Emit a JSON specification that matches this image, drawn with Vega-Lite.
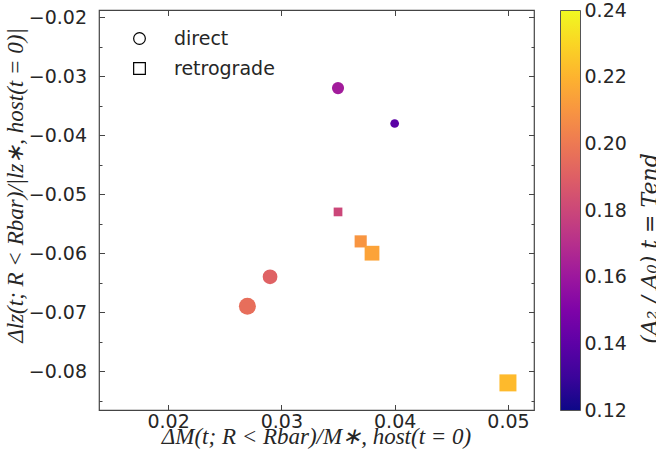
{
  "$schema": "https://vega.github.io/schema/vega-lite/v6.json",
  "width": 435,
  "height": 400,
  "autosize": {"type": "none"},
  "padding": {"left": 99, "top": 10, "right": 122, "bottom": 54},
  "background": "white",
  "config": {
    "view": {"stroke": "#444444", "strokeWidth": 1.2},
    "axis": {
      "domain": false,
      "grid": false,
      "labelFont": "DejaVu Sans",
      "labelFontSize": 19,
      "labelColor": "#262626",
      "tickColor": "#444444",
      "tickWidth": 1,
      "titleFont": "Liberation Serif",
      "titleFontStyle": "italic",
      "titleFontWeight": "normal",
      "titleFontSize": 23,
      "titleColor": "#262626"
    }
  },
  "data": {
    "values": [
      {"dm": 0.035, "dl": -0.032, "a": 0.162, "orbit": "direct", "weight": 2},
      {"dm": 0.040, "dl": -0.038, "a": 0.139, "orbit": "direct", "weight": 1},
      {"dm": 0.035, "dl": -0.053, "a": 0.180, "orbit": "retrograde", "weight": 1},
      {"dm": 0.037, "dl": -0.058, "a": 0.210, "orbit": "retrograde", "weight": 2},
      {"dm": 0.038, "dl": -0.060, "a": 0.215, "orbit": "retrograde", "weight": 3},
      {"dm": 0.029, "dl": -0.064, "a": 0.191, "orbit": "direct", "weight": 3},
      {"dm": 0.027, "dl": -0.069, "a": 0.196, "orbit": "direct", "weight": 4},
      {"dm": 0.050, "dl": -0.082, "a": 0.222, "orbit": "retrograde", "weight": 4}
    ]
  },
  "layer": [
    {
      "mark": {"type": "point", "filled": true, "opacity": 1, "strokeWidth": 0},
      "encoding": {
        "x": {
          "field": "dm", "type": "quantitative",
          "scale": {"domain": [0.0139, 0.0523], "nice": false, "zero": false},
          "axis": {
            "orient": "bottom",
            "values": [0.02, 0.03, 0.04, 0.05],
            "format": ".2f",
            "tickSize": -5.5,
            "labelPadding": 7.5,
            "title": "ΔM(t; R < Rbar)/M∗, host(t = 0)",
            "titleX": 217,
            "titleY": 26,
            "titleBaseline": "middle"
          }
        },
        "y": {
          "field": "dl", "type": "quantitative",
          "scale": {"domain": [-0.0866, -0.01875], "nice": false, "zero": false},
          "axis": {
            "orient": "left",
            "values": [-0.02, -0.03, -0.04, -0.05, -0.06, -0.07, -0.08],
            "format": ".2f",
            "tickSize": -5.5,
            "labelPadding": 18,
            "title": "Δlz(t; R < Rbar)/|lz∗, host(t = 0)|",
            "titleX": -84,
            "titleY": 175,
            "titleAngle": 270,
            "titleBaseline": "middle"
          }
        },
        "color": {
          "field": "a", "type": "quantitative",
          "scale": {"scheme": "plasma", "domain": [0.12, 0.24]},
          "legend": {
            "orient": "none",
            "legendX": 461.5,
            "legendY": 0.5,
            "direction": "vertical",
            "padding": 0,
            "gradientLength": 400,
            "gradientThickness": 20,
            "gradientStrokeColor": "#555555",
            "gradientStrokeWidth": 1,
            "values": [],
            "title": null
          }
        },
        "shape": {
          "field": "orbit", "type": "nominal",
          "scale": {"domain": ["direct", "retrograde"], "range": ["circle", "square"]},
          "legend": {
            "orient": "none",
            "legendX": 31,
            "legendY": 19,
            "padding": 0,
            "title": null,
            "labelFont": "DejaVu Sans",
            "labelFontSize": 19,
            "labelColor": "#262626",
            "labelOffset": 25,
            "rowPadding": 10,
            "symbolSize": 137,
            "symbolStrokeColor": "black",
            "symbolFillColor": "white",
            "symbolStrokeWidth": 1.2,
            "symbolOpacity": 1
          }
        },
        "size": {
          "field": "weight", "type": "quantitative",
          "scale": {"domain": [1, 4], "range": [76, 289]},
          "legend": null
        }
      }
    },
    {
      "mark": {"type": "point", "opacity": 0},
      "encoding": {
        "x": {
          "field": "dm", "type": "quantitative",
          "axis": {"orient": "top", "values": [0.02, 0.03, 0.04, 0.05], "labels": false, "tickSize": -5.5, "title": null}
        },
        "y": {
          "field": "dl", "type": "quantitative",
          "scale": {"domain": [-0.0866, -0.01875], "nice": false, "zero": false},
          "axis": {
            "orient": "right",
            "values": [-0.02, -0.03, -0.04, -0.05, -0.06, -0.07, -0.08],
            "labels": false,
            "tickSize": -5.5,
            "title": "(A₂ / A₀) t = Tend",
            "titleFont": "DejaVu Serif",
            "titleFontSize": 22,
            "titleX": 115,
            "titleY": 238,
            "titleAngle": 270,
            "titleBaseline": "middle",
            "titleAlign": "center"
          }
        }
      }
    },
    {
      "mark": {"type": "point", "opacity": 0},
      "encoding": {
        "x": {"field": "dm", "type": "quantitative", "axis": null},
        "y": {
          "field": "dl", "type": "quantitative",
          "scale": {"domain": [-0.0866, -0.01875], "nice": false, "zero": false},
          "axis": {"orient": "left", "values": [-0.025, -0.035, -0.045, -0.055, -0.065, -0.075, -0.085], "labels": false, "tickSize": -3, "title": null}
        }
      }
    },
    {
      "mark": {"type": "point", "opacity": 0},
      "encoding": {
        "x": {"field": "dm", "type": "quantitative", "axis": null},
        "y": {
          "field": "dl", "type": "quantitative",
          "scale": {"domain": [-0.0866, -0.01875], "nice": false, "zero": false},
          "axis": {"orient": "right", "values": [-0.025, -0.035, -0.045, -0.055, -0.065, -0.075, -0.085], "labels": false, "tickSize": -3, "title": null}
        }
      }
    },
    {
      "mark": {"type": "point", "opacity": 0},
      "encoding": {
        "x": {"field": "dm", "type": "quantitative", "axis": null},
        "y": {
          "field": "a", "type": "quantitative",
          "scale": {"domain": [0.12, 0.24], "nice": false, "zero": false},
          "axis": {
            "orient": "right",
            "offset": 47,
            "values": [0.12, 0.14, 0.16, 0.18, 0.2, 0.22, 0.24],
            "format": ".2f",
            "ticks": false,
            "labelPadding": 3,
            "labelFlush": false,
            "labelOverlap": false,
            "title": null
          }
        }
      }
    }
  ],
  "resolve": {"axis": {"x": "independent", "y": "independent"}, "scale": {"y": "independent"}}
}
